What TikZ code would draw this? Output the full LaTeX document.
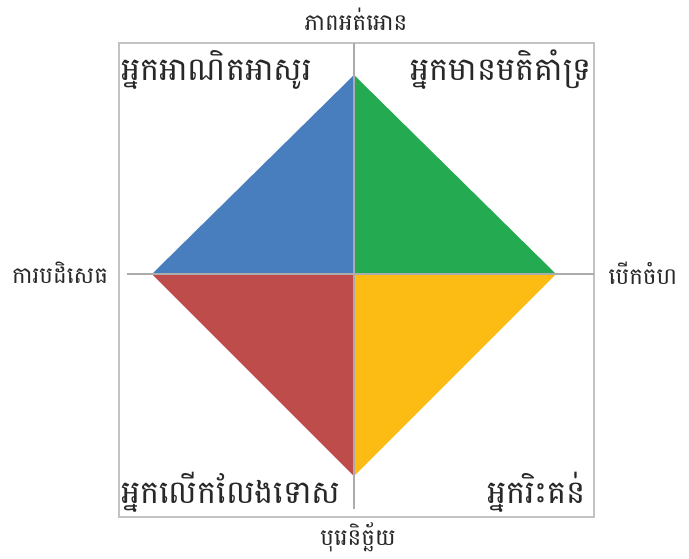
\documentclass[tikz,border=0pt]{standalone}
\usepackage{fontspec}
\newfontfamily\khmerfont[Script=Khmer]{Battambang}
\usepackage{tikz}
\usetikzlibrary{
  positioning,
  calc
}
\definecolor{QuadBlue}{RGB}{72,125,190}
\definecolor{QuadGreen}{RGB}{36,170,80}
\definecolor{QuadRed}{RGB}{190,76,74}
\definecolor{QuadYellow}{RGB}{252,188,20}
\definecolor{AxisGray}{RGB}{172,172,172}
\definecolor{FrameGray}{RGB}{195,195,195}
\definecolor{LabelGray}{RGB}{40,40,40}
\tikzset{
  frame/.style={draw=FrameGray,line width=1.4pt},
  axisline/.style={draw=AxisGray,line width=2pt},
  axislabel/.style={font=\khmerfont\fontsize{23}{27}\selectfont,text=LabelGray,inner sep=0pt},
  cornerlabel/.style={font=\khmerfont\fontsize{32}{38}\selectfont,text=LabelGray,inner sep=0pt}
}
\begin{document}
\begin{tikzpicture}[x=1pt,y=-1pt]
\useasboundingbox (0,0) rectangle (689,558);
% frame and corners of the diamond
\coordinate (c) at (354,274);
\coordinate (top) at (354,75);
\coordinate (bot) at (354,476);
\coordinate (lft) at (152,274);
\coordinate (rgt) at (556,274);
\draw[frame] (119,43) rectangle (594,517);

\fill[QuadBlue] (lft) -- (top) -- (c) -- cycle;
\fill[QuadGreen] (top) -- (rgt) -- (c) -- cycle;
\fill[QuadRed] (lft) -- (bot) -- (c) -- cycle;
\fill[QuadYellow] (rgt) -- (bot) -- (c) -- cycle;

% axes
\coordinate (xa) at (127,274);
\coordinate (xb) at (594,274);
\coordinate (ya) at (354,43);
\coordinate (yb) at (354,509);
\draw[axisline] (xa) -- (xb);
\draw[axisline] (ya) -- (yb);

\node[axislabel] (tol) at (356,19) {ភាពអត់អោន};
\node[axislabel] (rej) at (60,273) {ការបដិសេធ};
\node[axislabel] (opn) at (643,273) {បើកចំហ};
\node[axislabel] (pre) at (358,537) {បុរេនិច្ឆ័យ};

\node[cornerlabel,anchor=west] (sym) at (121,70) {អ្នកអាណិតអាសូរ};
\node[cornerlabel,anchor=east] (sup) at (592,70) {អ្នកមានមតិគាំទ្រ};
\node[cornerlabel,anchor=west] (frg) at (121,492) {អ្នកលើកលែងទោស};
\node[cornerlabel,anchor=east] (crt) at (586,492) {អ្នករិះគន់};
\end{tikzpicture}
\end{document}
